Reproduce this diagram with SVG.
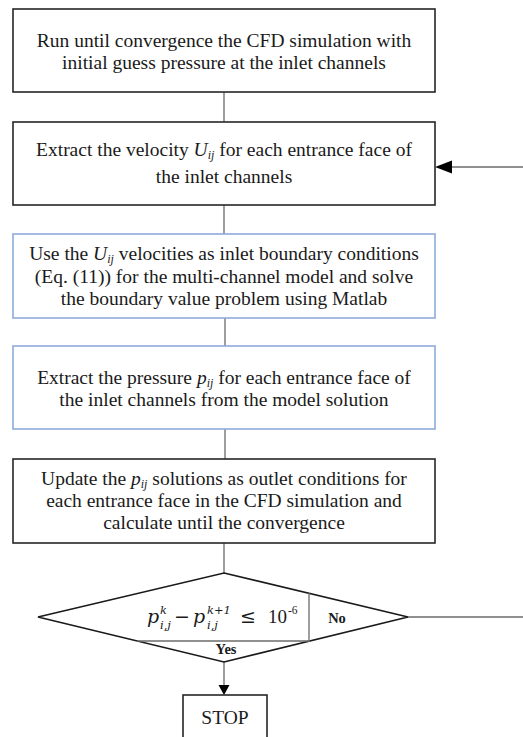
<svg xmlns="http://www.w3.org/2000/svg" width="523" height="737" viewBox="0 0 523 737">
<style>
.box{fill:#fff;stroke:#262626;stroke-width:1.6}
.bbox{fill:#fff;stroke:#8eaadb;stroke-width:1.6}
.t{font-family:"Liberation Serif","Times New Roman",serif;font-size:19.5px;fill:#1a1a1a;text-anchor:middle}
.i{font-style:italic}
.s{font-size:12px;font-style:italic}
.c{stroke:#6b6b6b;stroke-width:1.3;fill:none}
.b{font-family:"Liberation Serif","Times New Roman",serif;font-weight:bold;fill:#1a1a1a;text-anchor:middle}
.m{font-family:"DejaVu Serif","Liberation Serif",serif;font-size:19px;fill:#1a1a1a}
.mi{font-family:"DejaVu Serif","Liberation Serif",serif;font-size:11.5px;font-style:italic;fill:#1a1a1a}
</style>
<g id="connectors">
<line class="c" x1="224" y1="92" x2="224" y2="122"/>
<line class="c" x1="224" y1="205" x2="224" y2="234"/>
<line class="c" x1="225" y1="318" x2="225" y2="346"/>
<line class="c" x1="225" y1="429" x2="225" y2="459"/>
<line class="c" x1="224" y1="543" x2="224" y2="573"/>
<line class="c" x1="523" y1="167" x2="450" y2="167"/>
<polygon points="435,167 452,160.5 452,173.5" fill="#000"/>
<line class="c" x1="408" y1="617" x2="523" y2="617"/>
<line class="c" x1="224" y1="662" x2="224" y2="686"/>
<polygon points="224,695 218.5,685 229.5,685" fill="#000"/>
</g>
<g id="n1">
<rect class="box" x="13" y="9" width="422" height="83"/>
<text class="t" x="224" y="47">Run until convergence the CFD simulation with</text>
<text class="t" x="224" y="69">initial guess pressure at the inlet channels</text>
</g>
<g id="n2">
<rect class="box" x="13" y="122" width="422" height="83"/>
<text class="t" x="224" y="156">Extract the velocity <tspan class="i">U</tspan><tspan class="s" dy="3">ij</tspan><tspan dy="-3"> for each entrance face of</tspan></text>
<text class="t" x="224" y="183">the inlet channels</text>
</g>
<g id="n3">
<rect class="bbox" x="13" y="234" width="422" height="84"/>
<text class="t" x="224" y="260">Use the <tspan class="i">U</tspan><tspan class="s" dy="3">ij</tspan><tspan dy="-3"> velocities as inlet boundary conditions</tspan></text>
<text class="t" x="224" y="283">(Eq. (11)) for the multi-channel model and solve</text>
<text class="t" x="224" y="305">the boundary value problem using Matlab</text>
</g>
<g id="n4">
<rect class="bbox" x="13" y="346" width="422" height="83"/>
<text class="t" x="224" y="384">Extract the pressure <tspan class="i">p</tspan><tspan class="s" dy="3">ij</tspan><tspan dy="-3"> for each entrance face of</tspan></text>
<text class="t" x="224" y="406">the inlet channels from the model solution</text>
</g>
<g id="n5">
<rect class="box" x="13" y="459" width="422" height="84"/>
<text class="t" x="224" y="485">Update the <tspan class="i">p</tspan><tspan class="s" dy="3">ij</tspan><tspan dy="-3"> solutions as outlet conditions for</tspan></text>
<text class="t" x="224" y="507">each entrance face in the CFD simulation and</text>
<text class="t" x="224" y="529">calculate until the convergence</text>
</g>
<g id="decision">
<polygon points="224,573 408,617 224,662 38,617" fill="#fff" stroke="#1a1a1a" stroke-width="1.6"/>
<line x1="137" y1="641" x2="310" y2="641" stroke="#6b6b6b" stroke-width="1.3"/>
<line x1="309" y1="593" x2="309" y2="641" stroke="#6b6b6b" stroke-width="1.3"/>
<text class="m" x="147" y="623" font-style="italic">p</text>
<text class="mi" x="160" y="614">k</text>
<text class="mi" x="160" y="629">i,j</text>
<text class="m" x="174" y="623">−</text>
<text class="m" x="193" y="623" font-style="italic">p</text>
<text class="mi" x="207" y="614">k+1</text>
<text class="mi" x="207" y="629">i,j</text>
<text class="m" x="240" y="623">≤</text>
<text x="268" y="623" style="font-family:'Liberation Serif',serif;font-size:19px;fill:#1a1a1a">10</text>
<text x="288" y="614" style="font-family:'Liberation Serif',serif;font-size:11.5px;fill:#1a1a1a">-6</text>
<text class="b" x="337" y="623" font-size="14.5">No</text>
<text class="b" x="226" y="654" font-size="14.5">Yes</text>
</g>
<g id="stop">
<rect class="box" x="183" y="695" width="84" height="60"/>
<text class="t" x="225" y="724">STOP</text>
</g>
</svg>
